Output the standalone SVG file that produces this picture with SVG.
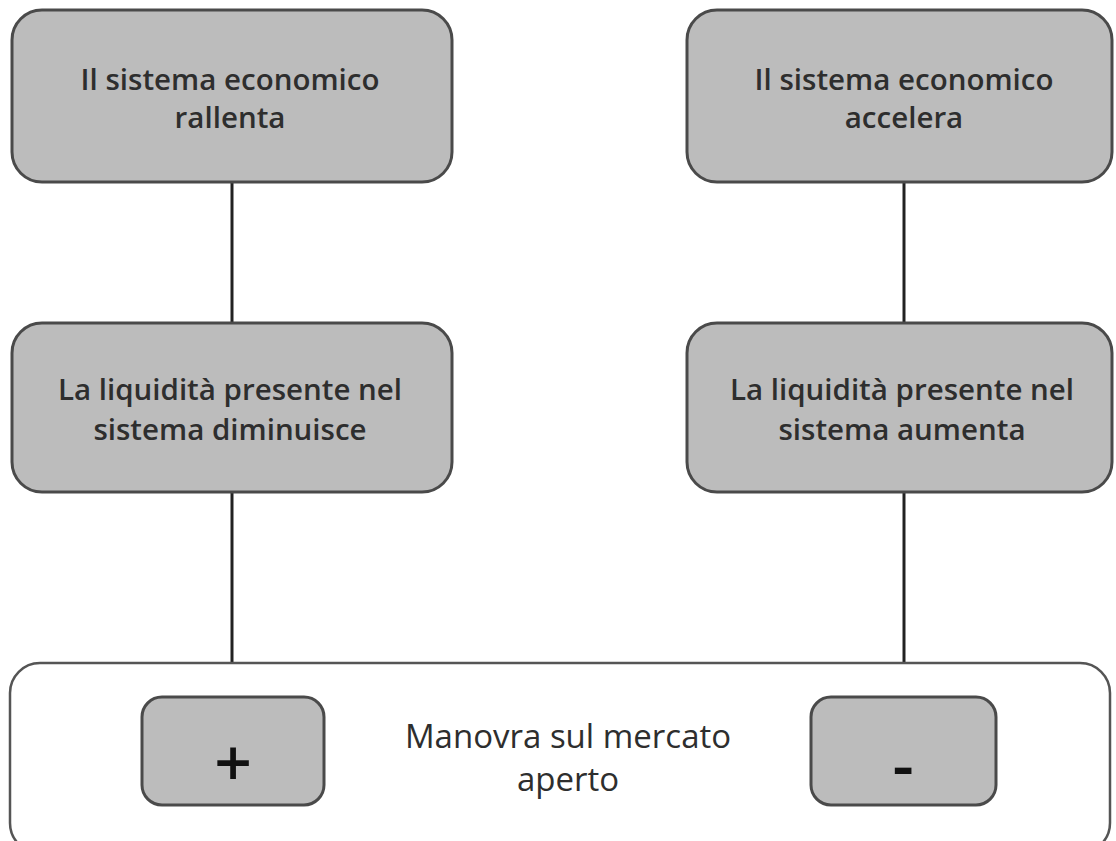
<svg xmlns="http://www.w3.org/2000/svg" width="1116" height="841" viewBox="0 0 1116 841">
<style>
.box{fill:#bcbcbc;stroke:#4a4a4a;stroke-width:3}
.outer{fill:#ffffff;stroke:#555555;stroke-width:2.5}
.t{font-family:"Open Sans","Noto Sans",sans-serif;font-size:29.5px;font-weight:600;fill:#2e2e2e;text-anchor:middle}
.tc{font-family:"Open Sans","Noto Sans",sans-serif;font-size:33px;font-weight:500;fill:#2e2e2e;text-anchor:middle}
.sym{font-family:"Open Sans","Noto Sans",sans-serif;font-size:66px;font-weight:600;fill:#111111;text-anchor:middle}
.conn{stroke:#222222;stroke-width:3;fill:none}
</style>
<rect width="1116" height="841" fill="#ffffff"/>
<g id="connectors">
<line class="conn" x1="232" y1="182" x2="232" y2="323"/>
<line class="conn" x1="232" y1="492" x2="232" y2="697"/>
<line class="conn" x1="904" y1="182" x2="904" y2="323"/>
<line class="conn" x1="904" y1="492" x2="904" y2="697"/>
</g>
<g id="n-rallenta">
<rect class="box" x="12" y="10" width="440" height="172" rx="30"/>
<text class="t" x="230" y="90">Il sistema economico</text>
<text class="t" x="230" y="128">rallenta</text>
</g>
<g id="n-accelera">
<rect class="box" x="687" y="10" width="425" height="172" rx="30"/>
<text class="t" x="904" y="90">Il sistema economico</text>
<text class="t" x="904" y="128">accelera</text>
</g>
<g id="n-diminuisce">
<rect class="box" x="12" y="323" width="440" height="169" rx="30"/>
<text class="t" x="230" y="400">La liquidità presente nel</text>
<text class="t" x="230" y="440">sistema diminuisce</text>
</g>
<g id="n-aumenta">
<rect class="box" x="687" y="323" width="425" height="169" rx="30"/>
<text class="t" x="902" y="400">La liquidità presente nel</text>
<text class="t" x="902" y="440">sistema aumenta</text>
</g>
<g id="n-manovra">
<rect class="outer" x="10" y="663" width="1100" height="190" rx="30"/>
<text class="tc" x="568" y="748">Manovra sul mercato</text>
<text class="tc" x="568" y="791">aperto</text>
</g>
<g id="n-plus">
<rect class="box" x="142" y="697" width="182" height="108" rx="20"/>
<text class="sym" x="233" y="786">+</text>
</g>
<g id="n-minus">
<rect class="box" x="811" y="697" width="185" height="108" rx="20"/>
<text class="sym" x="903" y="788">-</text>
</g>
</svg>
